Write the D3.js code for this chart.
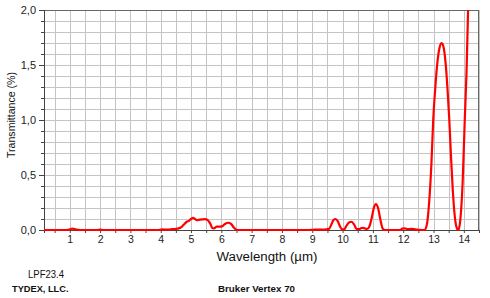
<!DOCTYPE html>
<html>
<head>
<meta charset="utf-8">
<script src="https://cdn.jsdelivr.net/npm/d3@7"></script>
<style>
  html, body { margin: 0; padding: 0; background: #fff; }
  svg { display: block; font-family: "Liberation Sans", Arial, sans-serif; }
</style>
</head>
<body>
<svg id="chart" width="490" height="298"></svg>
<script>
// ---- data ----
const wavelength = [
  0.15, 0.9, 1.0, 1.08, 1.2, 1.35, 1.9, 2.0, 2.1, 3.9, 4.05, 4.2, 4.4, 4.55, 4.65, 4.75,
  4.86, 4.94, 5.0, 5.07, 5.13, 5.19, 5.3, 5.46, 5.55, 5.63, 5.7, 5.75, 5.85, 5.95,
  6.03, 6.12, 6.23, 6.32, 6.42, 6.5, 6.6, 8.9, 9.1, 9.4, 9.55, 9.63, 9.7, 9.77,
  9.84, 9.92, 9.98, 10.05, 10.12, 10.22, 10.3, 10.38, 10.46, 10.55, 10.62, 10.68,
  10.75, 10.81, 10.88, 10.96, 11.03, 11.1, 11.17, 11.25, 11.33, 11.4, 11.9, 11.97,
  12.05, 12.15, 12.25, 12.35, 12.45, 12.62, 12.7, 12.78, 12.86, 12.93, 12.99,
  13.06, 13.13, 13.2, 13.27, 13.34, 13.41, 13.47, 13.52, 13.58, 13.65, 13.72,
  13.78, 13.82, 13.87, 13.92, 13.96, 14.03, 14.09, 14.14, 14.2
];
const transmittance = [
  0, 0, 0.005, 0.012, 0.005, 0, 0, 0.003, 0, 0, 0.005, 0.003, 0.008, 0.012, 0.02, 0.045,
  0.075, 0.085, 0.1, 0.11, 0.1, 0.09, 0.095, 0.098, 0.09, 0.06, 0.02, 0.015, 0.03, 0.03,
  0.035, 0.055, 0.066, 0.055, 0.02, 0.002, 0, 0, 0.003, 0.003, 0.01, 0.05, 0.09, 0.10,
  0.08, 0.03, 0.005, 0.005, 0.035, 0.07, 0.075, 0.05, 0.01, 0.008, 0.018, 0.02,
  0.012, 0.01, 0.03, 0.11, 0.2, 0.236, 0.2, 0.09, 0.01, 0, 0, 0.012,
  0.015, 0.008, 0.01, 0.008, 0.003, 0, 0, 0.05, 0.27, 0.6, 1.0,
  1.3, 1.53, 1.66, 1.70, 1.65, 1.48, 1.24, 1.0, 0.65, 0.3, 0.08,
  0.01, 0.0, 0.06, 0.22, 0.43, 1.0, 1.45, 2.0, 2.6
];
const xTickValues = [1, 2, 3, 4, 5, 6, 7, 8, 9, 10, 11, 12, 13, 14];
const yTickValues = [0, 0.5, 1.0, 1.5, 2.0];
const yTickLabels = ["0,0", "0,5", "1,0", "1,5", "2,0"];
const xDomain = [0.15, 14.5];
const yDomain = [0, 2];
const xTitle = "Wavelength (\u00b5m)";
const yTitle = "Transmittance (%)";
const sampleName = "LPF23.4";
const company = "TYDEX, LLC.";
const instrument = "Bruker Vertex 70";

// ---- layout ----
const svg = d3.select("#chart");
const L = 44, R = 479, T = 10, B = 230;
const x = d3.scaleLinear().domain(xDomain).range([L, R]);
const y = d3.scaleLinear().domain(yDomain).range([B, T]);

// grid
const grid = svg.append("g").attr("stroke", "#c4c4c4").attr("stroke-width", 1);
const xGrid = d3.range(0.5, 14.5 + 1e-9, 0.5);
grid.selectAll("line.vx").data(xGrid).join("line")
  .attr("x1", d => Math.round(x(d)) + 0.5).attr("x2", d => Math.round(x(d)) + 0.5)
  .attr("y1", T).attr("y2", B);
const yGrid = d3.range(0.1, 2.0, 0.1);
grid.selectAll("line.hy").data(yGrid).join("line")
  .attr("y1", d => Math.round(y(d)) + 0.5).attr("y2", d => Math.round(y(d)) + 0.5)
  .attr("x1", L).attr("x2", R);

// box
svg.append("rect").attr("x", L + 0.5).attr("y", T + 0.5)
  .attr("width", R - L - 1).attr("height", B - T)
  .attr("fill", "none").attr("stroke", "#666").attr("stroke-width", 1);

// y axis
const yAxis = d3.axisLeft(y).tickValues(yTickValues)
  .tickFormat((d, i) => yTickLabels[i]).tickSize(5).tickPadding(3);
const gy = svg.append("g").attr("transform", `translate(${L},0)`).call(yAxis);
gy.select(".domain").attr("stroke", "#444");
gy.selectAll(".tick line").attr("stroke", "#444");
gy.selectAll("text").attr("font-size", 11).attr("fill", "#222")
  .attr("font-family", "'Liberation Sans', Arial, sans-serif");
// minor y ticks
svg.append("g").selectAll("line").data(d3.range(0.1, 2.0, 0.1)).join("line")
  .attr("x1", L - 3).attr("x2", L)
  .attr("y1", d => Math.round(y(d)) + 0.5).attr("y2", d => Math.round(y(d)) + 0.5)
  .attr("stroke", "#444");

// x axis
const xAxis = d3.axisBottom(x).tickValues(d3.range(0.5, 14.5 + 1e-9, 0.5))
  .tickFormat(d => xTickValues.includes(d) ? String(d) : "").tickSize(3).tickPadding(3);
const gx = svg.append("g").attr("transform", `translate(0,${B})`).call(xAxis);
gx.select(".domain").attr("stroke", "#444");
gx.selectAll(".tick line").attr("stroke", "#444");
gx.selectAll("text").attr("font-size", 10.5).attr("fill", "#222")
  .attr("font-family", "'Liberation Sans', Arial, sans-serif");

// curve
svg.append("clipPath").attr("id", "clip").append("rect")
  .attr("x", L).attr("y", T).attr("width", R - L).attr("height", B - T + 3);
const pts = wavelength.map((w, i) => [w, transmittance[i]]);
const line = d3.line().x(d => x(d[0])).y(d => y(d[1])).curve(d3.curveMonotoneX);
svg.append("path").datum(pts).attr("clip-path", "url(#clip)")
  .attr("d", line).attr("fill", "none").attr("stroke", "#ff0000")
  .attr("stroke-width", 2.2).attr("stroke-linejoin", "round");

// titles
svg.append("text").attr("x", 267).attr("y", 261).attr("text-anchor", "middle")
  .attr("font-size", 12).attr("fill", "#111").attr("textLength", 101)
  .attr("lengthAdjust", "spacingAndGlyphs").text(xTitle);
svg.append("text").attr("transform", "translate(15,115) rotate(-90)")
  .attr("text-anchor", "middle").attr("font-size", 11).attr("fill", "#111")
  .attr("textLength", 86).attr("lengthAdjust", "spacingAndGlyphs")
  .text(yTitle);
svg.append("text").attr("x", 28).attr("y", 278).attr("font-size", 11)
  .attr("fill", "#111").attr("textLength", 36).attr("lengthAdjust", "spacingAndGlyphs")
  .text(sampleName);
svg.append("text").attr("x", 12).attr("y", 292).attr("font-size", 8.5)
  .attr("font-weight", "bold").attr("fill", "#111").attr("textLength", 56.5)
  .attr("lengthAdjust", "spacingAndGlyphs").text(company);
svg.append("text").attr("x", 218).attr("y", 292).attr("font-size", 8.5)
  .attr("font-weight", "bold").attr("fill", "#111").attr("textLength", 77)
  .attr("lengthAdjust", "spacingAndGlyphs").text(instrument);
</script>
</body>
</html>
